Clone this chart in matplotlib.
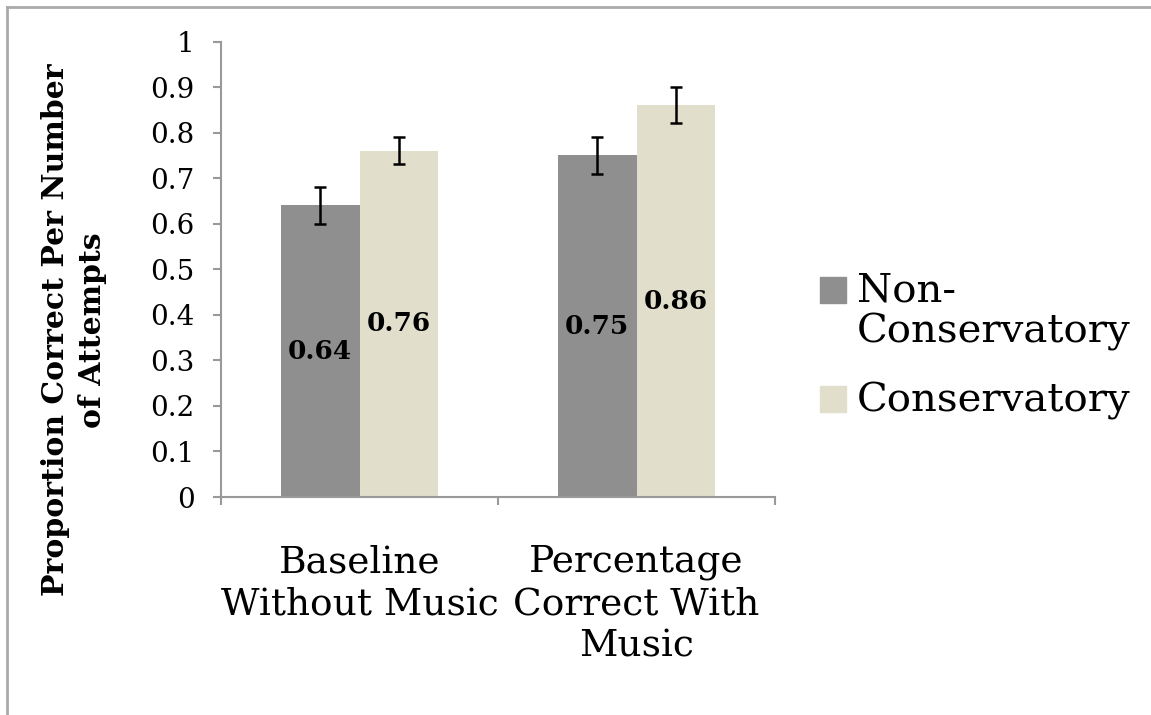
import matplotlib
matplotlib.use("Agg")
from matplotlib import pyplot as plt
from matplotlib.lines import Line2D
from matplotlib.patches import Rectangle
import numpy as np

categories = ["Baseline\nWithout Music", "Percentage\nCorrect With\nMusic"]
series_names = ["Non-\nConservatory", "Conservatory"]
non_conservatory = [0.64, 0.75]
conservatory = [0.76, 0.86]
err_non = [0.04, 0.04]
err_cons = [0.03, 0.04]
colors = ["#8f8f8f", "#e1dfcc"]

plt.rcParams["font.family"] = ["DejaVu Serif"]

W, H = 1151, 715
fig = plt.figure(figsize=(W / 100, H / 100), dpi=100)
ax = fig.add_axes([221 / W, 1 - 497 / H, (775 - 221) / W, (497 - 41.5) / H])

ind = np.arange(len(categories)) + 0.5
width = 0.285

for vals, errs, col, off in [(non_conservatory, err_non, colors[0], -width / 2),
                             (conservatory, err_cons, colors[1], width / 2)]:
    ax.bar(ind + off, vals, width, color=col, zorder=2)
    ax.errorbar(ind + off, vals, yerr=errs, fmt="none", ecolor="black",
                elinewidth=1.8, capsize=4.5, capthick=1.8, zorder=3)
    for x, v in zip(ind + off, vals):
        ax.text(x, v / 2, f"{v:.2f}", ha="center", va="center",
                fontsize=19, fontweight="bold", zorder=4)

ax.set_xlim(0, 2)
ax.set_ylim(0, 1)
ax.set_yticks(np.arange(0, 1.01, 0.1))
ax.set_yticklabels(["0", "0.1", "0.2", "0.3", "0.4", "0.5", "0.6", "0.7", "0.8", "0.9", "1"])
ax.set_xticks([0, 1, 2])
ax.set_xticklabels([])
ax.set_xticks(ind, minor=True)
ax.set_xticklabels(categories, minor=True, fontsize=27, linespacing=1.22)
ax.tick_params(axis="x", which="minor", length=0, pad=34)
ax.tick_params(axis="x", which="major", length=6, width=1.5, color="#999999")
ax.tick_params(axis="y", length=6, width=1.5, color="#999999", labelsize=20, pad=13)

for s in ["top", "right"]:
    ax.spines[s].set_visible(False)
for s in ["left", "bottom"]:
    ax.spines[s].set_color("#999999")
    ax.spines[s].set_linewidth(1.5)

fig.text(74 / W, 1 - 330 / H, "Proportion Correct Per Number\nof Attempts",
         rotation=90, ha="center", va="center", fontsize=21.5, fontweight="bold",
         linespacing=1.35)

# legend
marker_y = [290, 399]
text_y = [312, 401]
for my, ty, name, col in zip(marker_y, text_y, series_names, colors):
    fig.patches.append(Rectangle((820 / W, 1 - (my + 13) / H), 26 / W, 26 / H,
                                 transform=fig.transFigure, color=col))
    fig.text(857 / W, 1 - ty / H, name, ha="left", va="center", fontsize=29,
             linespacing=1.12)

# outer border
fig.add_artist(Line2D([7 / W, 7 / W], [0, 1 - 7 / H], transform=fig.transFigure,
                      color="#aaaaaa", lw=2))
fig.add_artist(Line2D([7 / W, 1], [1 - 7 / H, 1 - 7 / H], transform=fig.transFigure,
                      color="#aaaaaa", lw=2))

fig.savefig("out.png", dpi=100)
